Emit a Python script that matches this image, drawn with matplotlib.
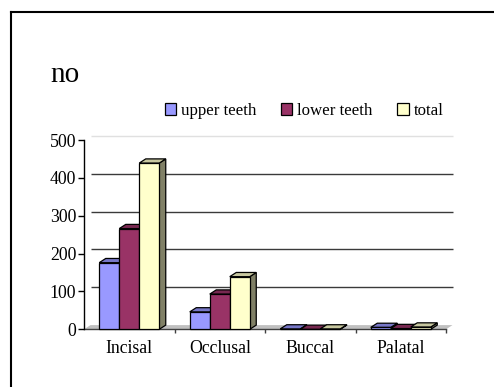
import matplotlib
matplotlib.use("Agg")
import matplotlib.pyplot as plt
from matplotlib.patches import Polygon, Rectangle, Patch
from matplotlib.lines import Line2D
import numpy as np

categories = ["Incisal", "Occlusal", "Buccal", "Palatal"]
upper_teeth = [176, 46, 1, 5]
lower_teeth = [266, 93, 0, 2]
total = [439, 139, 1, 6]
series_names = ["upper teeth", "lower teeth", "total"]
y_ticks = [0, 100, 200, 300, 400, 500]
title = "no"

front_colors = ["#9999FF", "#993366", "#FFFFCC"]

def shade(hexc, f):
    c = np.array(matplotlib.colors.to_rgb(hexc)) * f
    return tuple(c)

W, H = 494, 387
dpi = 100
fig = plt.figure(figsize=(W / dpi, H / dpi), dpi=dpi)
fig.patch.set_facecolor("white")
plt.rcParams["font.family"] = ["Liberation Serif", "DejaVu Serif"]

# axes in pixel layout
ax_l, ax_r, ax_b, ax_t = 84, 446, 329.3, 140.0
ax = fig.add_axes([ax_l / W, 1 - ax_b / H, (ax_r - ax_l) / W, (ax_b - ax_t) / H])
ax.set_xlim(-0.5, 3.5)
ax.set_ylim(0, 500)
ax.patch.set_alpha(0)

# depth offset in pixels -> data units
dpx, dpy = 6.5, 4.2
DX = dpx * 4 / (ax_r - ax_l)
DY = dpy * 500 / (ax_b - ax_t)

# floor
floor = Polygon([(-0.5, 0), (3.5, 0), (3.5 + DX, DY), (-0.5 + DX, DY)],
                closed=True, facecolor="#c0c0c0", edgecolor="none", clip_on=False, zorder=1)
ax.add_patch(floor)
ax.plot([-0.5, 3.5], [0, 0], color="#404040", lw=1.0, clip_on=False, zorder=1.5)

# gridlines on back wall
for v in y_ticks[1:]:
    col = "#e0e0e0" if v == 500 else "#3a3a3a"
    ax.plot([-0.5 + DX, 3.5 + DX], [v + DY, v + DY], color=col, lw=1.0,
            clip_on=False, zorder=1.2, solid_capstyle="butt")

# bars
bw = 20 * 4 / (ax_r - ax_l)
series = [upper_teeth, lower_teeth, total]
z = 2
for ci in range(len(categories)):
    for si, vals in enumerate(series):
        h = vals[ci]
        x0 = ci + (si - 1.5) * bw
        x1 = x0 + bw
        c = front_colors[si]
        side = Polygon([(x1, 0), (x1 + DX, DY), (x1 + DX, h + DY), (x1, h)],
                       closed=True, facecolor=shade(c, 0.5), edgecolor="black",
                       lw=0.9, clip_on=False, zorder=z)
        top = Polygon([(x0, h), (x1, h), (x1 + DX, h + DY), (x0 + DX, h + DY)],
                      closed=True, facecolor=shade(c, 0.78), edgecolor="black",
                      lw=0.9, clip_on=False, zorder=z)
        front = Rectangle((x0, 0), bw, h, facecolor=c, edgecolor="black",
                          lw=0.9, clip_on=False, zorder=z + 0.5)
        ax.add_patch(side)
        ax.add_patch(top)
        ax.add_patch(front)
        z += 1

# axes styling
for s in ["top", "right", "bottom"]:
    ax.spines[s].set_visible(False)
ax.spines["left"].set_color("black")
ax.spines["left"].set_linewidth(1.0)
ax.spines["left"].set_zorder(50)
ax.set_yticks(y_ticks)
ax.set_yticklabels([str(v) for v in y_ticks])
ax.tick_params(axis="y", direction="out", length=4, width=1, pad=1.5,
               labelsize=12.8, colors="black")
ax.set_xticks(range(len(categories)))
ax.set_xticklabels(categories)
ax.tick_params(axis="x", length=0, pad=7.5, labelsize=12.8)
ax.set_xticks([0.5, 1.5, 2.5, 3.5], minor=True)
ax.tick_params(axis="x", which="minor", direction="out", length=3, width=1, color="#404040")

# legend
handles = [Patch(facecolor=c, edgecolor="black", lw=0.9) for c in front_colors]
fig.legend(handles, series_names, loc="center left",
           bbox_to_anchor=(165 / W, 1 - 111 / H), ncol=3, frameon=False,
           fontsize=12.2, handlelength=0.66, handleheight=0.66, handletextpad=0.3,
           columnspacing=1.45, borderpad=0, borderaxespad=0)

# title
fig.text(50 / W, 1 - 82 / H, title, fontsize=21, va="baseline", ha="left")

# border (top and left)
fig.add_artist(Line2D([11 / W, 1.0], [1 - 12 / H, 1 - 12 / H], color="black", lw=1.5,
                      transform=fig.transFigure))
fig.add_artist(Line2D([11 / W, 11 / W], [1 - 12 / H, 0.0], color="black", lw=1.5,
                      transform=fig.transFigure))

fig.savefig("out.png", dpi=dpi)
